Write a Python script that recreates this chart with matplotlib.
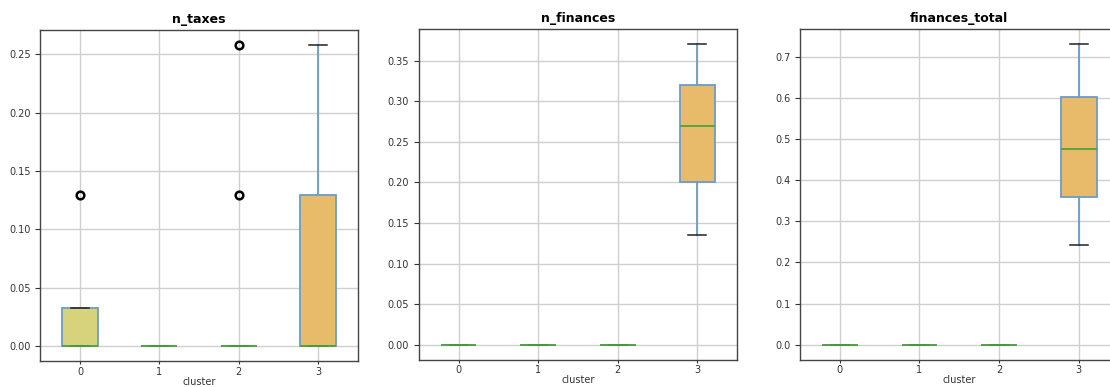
import matplotlib
matplotlib.use("Agg")
import matplotlib.pyplot as plt

# Cluster labels and per-cluster box statistics for each feature
clusters = ["0", "1", "2", "3"]
box_colors = ["#d7d37c", "#a9cf8f", "#9dc3e0", "#e8bb6a"]

n_taxes_q1 = [0.0, 0.0, 0.0, 0.0]
n_taxes_med = [0.0, 0.0, 0.0, 0.0]
n_taxes_q3 = [0.0323, 0.0, 0.0, 0.129]
n_taxes_lo = [0.0, 0.0, 0.0, 0.0]
n_taxes_hi = [0.0323, 0.0, 0.0, 0.258]
n_taxes_fliers = [[0.129], [], [0.129, 0.258], []]

n_finances_q1 = [0.0, 0.0, 0.0, 0.201]
n_finances_med = [0.0, 0.0, 0.0, 0.270]
n_finances_q3 = [0.0, 0.0, 0.0, 0.320]
n_finances_lo = [0.0, 0.0, 0.0, 0.135]
n_finances_hi = [0.0, 0.0, 0.0, 0.371]
n_finances_fliers = [[], [], [], []]

finances_total_q1 = [0.0, 0.0, 0.0, 0.359]
finances_total_med = [0.0, 0.0, 0.0, 0.475]
finances_total_q3 = [0.0, 0.0, 0.0, 0.602]
finances_total_lo = [0.0, 0.0, 0.0, 0.243]
finances_total_hi = [0.0, 0.0, 0.0, 0.731]
finances_total_fliers = [[], [], [], []]

features = [
    ("n_taxes", n_taxes_q1, n_taxes_med, n_taxes_q3, n_taxes_lo, n_taxes_hi, n_taxes_fliers),
    ("n_finances", n_finances_q1, n_finances_med, n_finances_q3, n_finances_lo, n_finances_hi, n_finances_fliers),
    ("finances_total", finances_total_q1, finances_total_med, finances_total_q3,
     finances_total_lo, finances_total_hi, finances_total_fliers),
]

plt.rcParams["font.family"] = ["DejaVu Sans"]
fig = plt.figure(figsize=(11.10, 3.87), dpi=100)

positions = [
    [0.0363, 0.0672, 0.286, 0.8553],
    [0.3772, 0.0705, 0.287, 0.8553],
    [0.7207, 0.0705, 0.287, 0.8553],
]

edge_blue = "#6c9cc6"
spine_col = "#444444"

for pos, (name, q1, med, q3, lo, hi, fl) in zip(positions, features):
    ax = fig.add_axes(pos)
    stats = []
    for i, lab in enumerate(clusters):
        stats.append(dict(label=lab, q1=q1[i], med=med[i], q3=q3[i],
                          whislo=lo[i], whishi=hi[i], fliers=fl[i]))
    bp = ax.bxp(stats, widths=0.45, patch_artist=True, showfliers=True,
                boxprops=dict(edgecolor=edge_blue, linewidth=1.3),
                whiskerprops=dict(color=edge_blue, linewidth=1.3),
                capprops=dict(color="#222222", linewidth=1.1),
                medianprops=dict(color="#4fa33a", linewidth=1.3),
                flierprops=dict(marker="o", markerfacecolor="none",
                                markeredgecolor="black", markersize=5.5,
                                markeredgewidth=1.8))
    for patch, c in zip(bp["boxes"], box_colors):
        patch.set_facecolor(c)

    ax.grid(True, color="#cfcfcf", linewidth=1.0)
    ax.set_axisbelow(True)
    ax.set_title(name, fontsize=9, fontweight="bold", pad=5)
    ax.set_xlabel("cluster", fontsize=7, color="#333333", labelpad=0)
    ax.tick_params(labelsize=7, colors="#333333", length=3.5, width=0.8)
    ax.tick_params(axis="x", length=2.5, pad=1.5)
    for sp in ax.spines.values():
        sp.set_color(spine_col)
        sp.set_linewidth(1.0)

fig.savefig("out.png", dpi=100)
